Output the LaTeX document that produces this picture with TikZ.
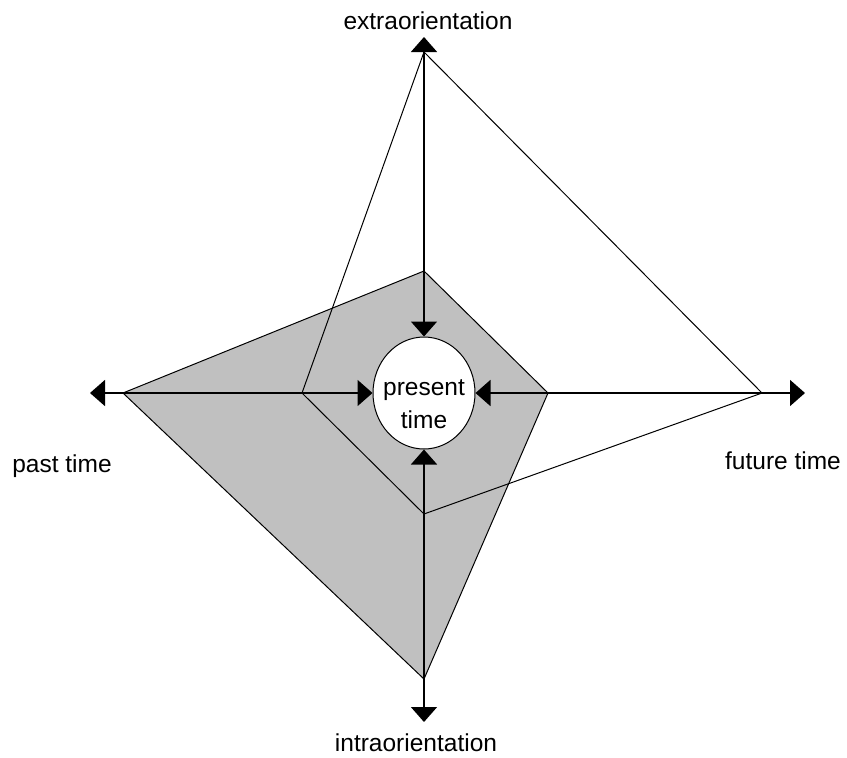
\documentclass[tikz,border=0pt]{standalone}
\usepackage{fontspec}
\setmainfont{Liberation Sans}
\usetikzlibrary{arrows.meta,shapes.geometric}
\definecolor{silver}{RGB}{192,192,192}
\begin{document}
\begin{tikzpicture}[x=1pt,y=-1pt,
  font=\fontsize{24.5}{33}\selectfont,
  tip/.tip={Triangle[length=15pt,width=26pt]},
  axis/.style={line width=1.6pt, tip-tip},
  edge/.style={line width=1pt},
  lbl/.style={inner sep=0pt}]
\useasboundingbox (0,0) rectangle (847,758);
% grey quadrilateral
\coordinate (gL) at (123,393);
\coordinate (gT) at (424,271);
\coordinate (gR) at (548,393);
\coordinate (gB) at (424,679);
\filldraw[edge, fill=silver] (gL) -- (gT) -- (gR) -- (gB) -- cycle;
% white quadrilateral (outline)
\coordinate (wT) at (424,52);
\coordinate (wR) at (762,393);
\coordinate (wB) at (424,514);
\coordinate (wL) at (302,393);
\draw[edge] (wT) -- (wR) -- (wB) -- (wL) -- cycle;
% centre
\node[ellipse, draw, fill=white, edge, inner sep=0pt,
      minimum width=102pt, minimum height=112pt] (pt) at (424,393) {};
\node[lbl, align=center] (ptext) at (424,404) {present\\time};
% axes ends
\coordinate (aT) at (424,37);
\coordinate (aB) at (424,722);
\coordinate (aL) at (90,393);
\coordinate (aR) at (805,393);
\draw[axis] (pt.north) -- (aT);
\draw[axis] (pt.south) -- (aB);
\draw[axis] (pt.west) -- (aL);
\draw[axis] (pt.east) -- (aR);
% labels
\node[lbl] (extra) at (428,21) {extraorientation};
\node[lbl] (past) at (62,466) {past time};
\node[lbl] (future) at (783,461) {future time};
\node[lbl] (intra) at (416,743) {intraorientation};
\end{tikzpicture}
\end{document}
